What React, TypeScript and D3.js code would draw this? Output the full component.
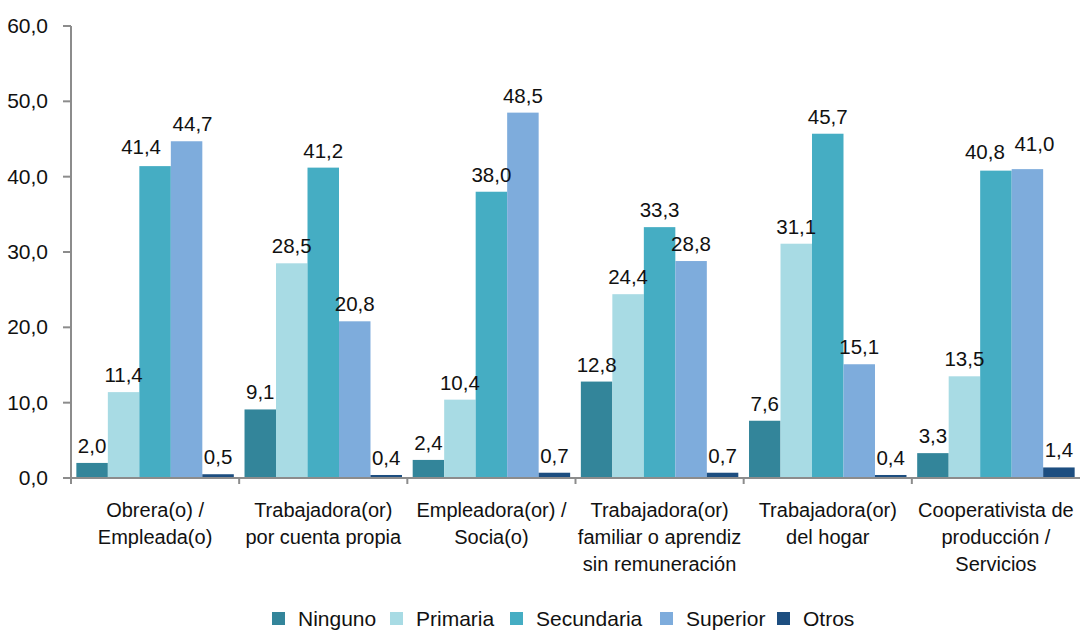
import React from "react";
import * as d3 from "d3";

const categories: string[][] = [
  ["Obrera(o) /", "Empleada(o)"],
  ["Trabajadora(or)", "por cuenta propia"],
  ["Empleadora(or) /", "Socia(o)"],
  ["Trabajadora(or)", "familiar o aprendiz", "sin remuneración"],
  ["Trabajadora(or)", "del hogar"],
  ["Cooperativista de", "producción /", "Servicios"],
];
const seriesNames = ["Ninguno", "Primaria", "Secundaria", "Superior", "Otros"];
const ninguno = [2.0, 9.1, 2.4, 12.8, 7.6, 3.3];
const primaria = [11.4, 28.5, 10.4, 24.4, 31.1, 13.5];
const secundaria = [41.4, 41.2, 38.0, 33.3, 45.7, 40.8];
const superior = [44.7, 20.8, 48.5, 28.8, 15.1, 41.0];
const otros = [0.5, 0.4, 0.7, 0.7, 0.4, 1.4];
const yTicks = [0, 10, 20, 30, 40, 50, 60];
const colors = ["#33859a", "#a8dbe4", "#45adc3", "#7eacdc", "#1d4e80"];

const seriesValues = [ninguno, primaria, secundaria, superior, otros];

// label placement nudges (series-category) to avoid overlapping labels, as in the source
const labelNudge: Record<string, [number, number]> = {
  "2-0": [-14, -2],
  "3-0": [6, 0],
  "2-5": [-11, -2],
  "3-5": [7, -8],
};

const W = 1080;
const H = 630;
const FONT = "'Liberation Sans', Arial, sans-serif";

export default function App() {
  const left = 71;
  const right = 1080;
  const top = 26;
  const bottom = 478;
  const y = d3.scaleLinear().domain([0, 60]).range([bottom, top]);
  const x0 = d3
    .scaleBand<number>()
    .domain(categories.map((_, i) => i))
    .range([left, right])
    .padding(0);
  const x1 = d3
    .scaleBand<number>()
    .domain(seriesNames.map((_, i) => i))
    .range([0, x0.bandwidth()])
    .paddingInner(0)
    .paddingOuter(0.17);
  const fmt = (v: number) => d3.format(".1f")(v).replace(".", ",");
  const axisColor = "#8c8c8c";

  const legendX = [272, 390, 510, 660, 777];

  return (
    <svg
      width={W}
      height={H}
      style={{ position: "absolute", left: 0, top: 0, background: "#fff" }}
      fontFamily={FONT}
    >
      {/* bars */}
      {seriesValues.map((vals, s) =>
        vals.map((v, c) => (
          <rect
            key={`b${s}-${c}`}
            x={(x0(c) as number) + (x1(s) as number)}
            y={y(v)}
            width={x1.bandwidth()}
            height={bottom - y(v)}
            fill={colors[s]}
          />
        ))
      )}
      {/* value labels */}
      {seriesValues.map((vals, s) =>
        vals.map((v, c) => {
          const nd = labelNudge[`${s}-${c}`] || [0, 0];
          return (
            <text
              key={`l${s}-${c}`}
              x={(x0(c) as number) + (x1(s) as number) + x1.bandwidth() / 2 + nd[0]}
              y={y(v) - 10 + nd[1]}
              textAnchor="middle"
              fontSize={20.5}
              fill="#111"
            >
              {fmt(v)}
            </text>
          );
        })
      )}
      {/* y axis */}
      <line x1={left} x2={left} y1={top} y2={bottom} stroke={axisColor} strokeWidth={2} />
      {yTicks.map((t) => (
        <g key={`yt${t}`}>
          <line x1={left - 8} x2={left} y1={y(t)} y2={y(t)} stroke={axisColor} strokeWidth={2} />
          <text x={48} y={y(t) + 7} textAnchor="end" fontSize={21} fill="#111">
            {fmt(t)}
          </text>
        </g>
      ))}
      {/* x axis */}
      <line x1={left} x2={right} y1={bottom} y2={bottom} stroke={axisColor} strokeWidth={2} />
      {categories.map((_, c) => (
        <line
          key={`xt${c}`}
          x1={x0(c) as number}
          x2={x0(c) as number}
          y1={bottom}
          y2={bottom + 6}
          stroke={axisColor}
          strokeWidth={2}
        />
      ))}
      {categories.map((lines, c) => (
        <text
          key={`cat${c}`}
          x={(x0(c) as number) + x0.bandwidth() / 2}
          textAnchor="middle"
          fontSize={20}
          fill="#111"
        >
          {lines.map((ln, i) => (
            <tspan key={i} x={(x0(c) as number) + x0.bandwidth() / 2} y={517 + i * 27}>
              {ln}
            </tspan>
          ))}
        </text>
      ))}
      {/* legend */}
      {seriesNames.map((n, s) => (
        <g key={`lg${s}`}>
          <rect x={legendX[s]} y={612} width={13} height={13} fill={colors[s]} />
          <text x={legendX[s] + 26} y={626} fontSize={21} fill="#111">
            {n}
          </text>
        </g>
      ))}
    </svg>
  );
}
